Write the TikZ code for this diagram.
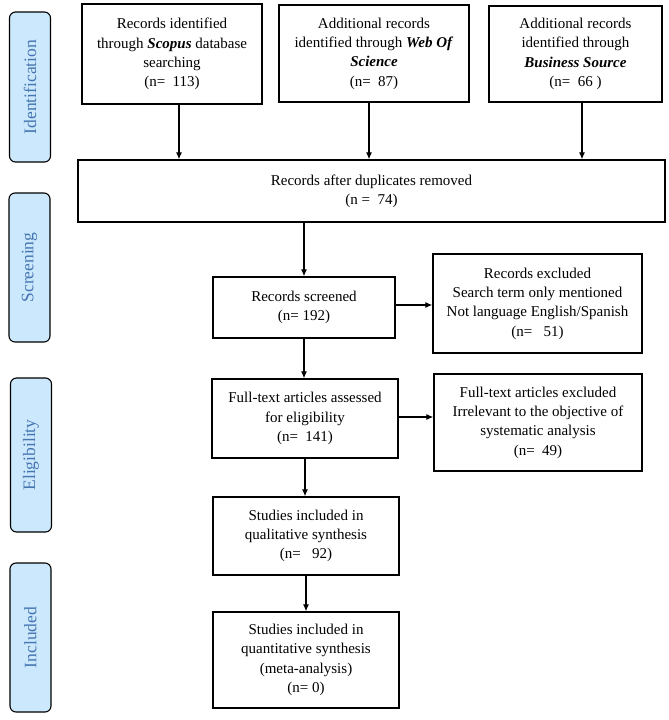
\documentclass[tikz,border=0pt]{standalone}
\usepackage{fontspec}
\setmainfont{Liberation Serif}
\usetikzlibrary{arrows.meta}
\definecolor{phasefill}{RGB}{204,232,252}
\definecolor{phasetext}{RGB}{70,118,178}

\begin{document}
\begin{tikzpicture}[x=1pt,y=-1pt]
            \tikzset{box/.style = {draw, line width=1.3pt, align=center, inner sep=0pt, font=\fontsize{15}{19.3}\selectfont}}
            \tikzset{phase/.style = {draw, line width=1.1pt, rounded corners=6pt, fill=phasefill, text=phasetext, rotate=90, minimum height=41pt, inner sep=0pt, font=\fontsize{17.5}{20}\selectfont}}
            \tikzset{arr/.style = {-{Latex[length=7pt,width=6pt]}, line width=1.2pt}}

            \useasboundingbox (0,0) rectangle (669,720);

            % phases
            \node[phase, minimum width=150pt] (ident)  at (30,87)    {Identification};
            \node[phase, minimum width=149pt] (screen) at (29.5,267.5) {Screening};
            \node[phase, minimum width=154pt] (elig)   at (31,455)   {Eligibility};
            \node[phase, minimum width=149pt] (incl)   at (30.5,637.5) {Included};

            % sources
            \node[box, minimum width=180pt, minimum height=100pt] (scopus) at (172,54)
                {Records identified\\through \textbf{\textit{Scopus}} database\\searching\\(n=\ \ 113)};
            \node[box, minimum width=190pt, minimum height=97pt] (wos) at (374,53.5)
                {Additional records\\identified through \textbf{\textit{Web Of}}\\\textbf{\textit{Science}}\\(n=\ \ 87)};
            \node[box, minimum width=173pt, minimum height=96pt] (business) at (575.5,54)
                {Additional records\\identified through\\\textbf{\textit{Business Source}}\\(n=\ \ 66 )};

            \node[box, minimum width=587pt, minimum height=62pt] (dup) at (371.5,191)
                {Records after duplicates removed\\(n =\ \ 74)};

            % main flow
            \node[box, minimum width=182pt, minimum height=61pt] (screened) at (304,307.5)
                {Records screened\\(n= 192)};
            \node[box, minimum width=209pt, minimum height=99pt] (excl1) at (537.5,303.5)
                {Records excluded\\Search term only mentioned\\Not language English/Spanish\\(n=\ \ \ 51)};
            \node[box, minimum width=186pt, minimum height=79pt] (fulltext) at (305,418.5)
                {Full-text articles assessed\\for eligibility\\(n=\ \ 141)};
            \node[box, minimum width=208pt, minimum height=97pt] (excl2) at (538,422.5)
                {Full-text articles excluded\\Irrelevant to the objective of\\systematic analysis\\(n=\ \ 49)};
            \node[box, minimum width=186pt, minimum height=78pt] (qual) at (306,536)
                {Studies included in\\qualitative synthesis\\(n=\ \ \ 92)};
            \node[box, minimum width=186pt, minimum height=96pt] (quant) at (306,660)
                {Studies included in\\quantitative synthesis\\(meta-analysis)\\(n= 0)};

            % arrows
            \draw[arr] ([xshift=7pt]scopus.south) -- ([xshift=7pt]scopus.south |- dup.north);
            \draw[arr] ([xshift=-5pt]wos.south) -- ([xshift=-5pt]wos.south |- dup.north);
            \draw[arr] ([xshift=6.5pt]business.south) -- ([xshift=6.5pt]business.south |- dup.north);
            \draw[arr] (dup.south -| screened.north) -- (screened.north);
            \draw[arr] (screened.south) -- (screened.south |- fulltext.north);
            \draw[arr] (fulltext.south) -- (fulltext.south |- qual.north);
            \draw[arr] (qual.south) -- (qual.south |- quant.north);
            \draw[arr] ([yshift=2.5pt]screened.east) -- ([yshift=2.5pt]screened.east -| excl1.west);
            \draw[arr] ([yshift=1.5pt]fulltext.east) -- ([yshift=1.5pt]fulltext.east -| excl2.west);

        \end{tikzpicture}
\end{document}
